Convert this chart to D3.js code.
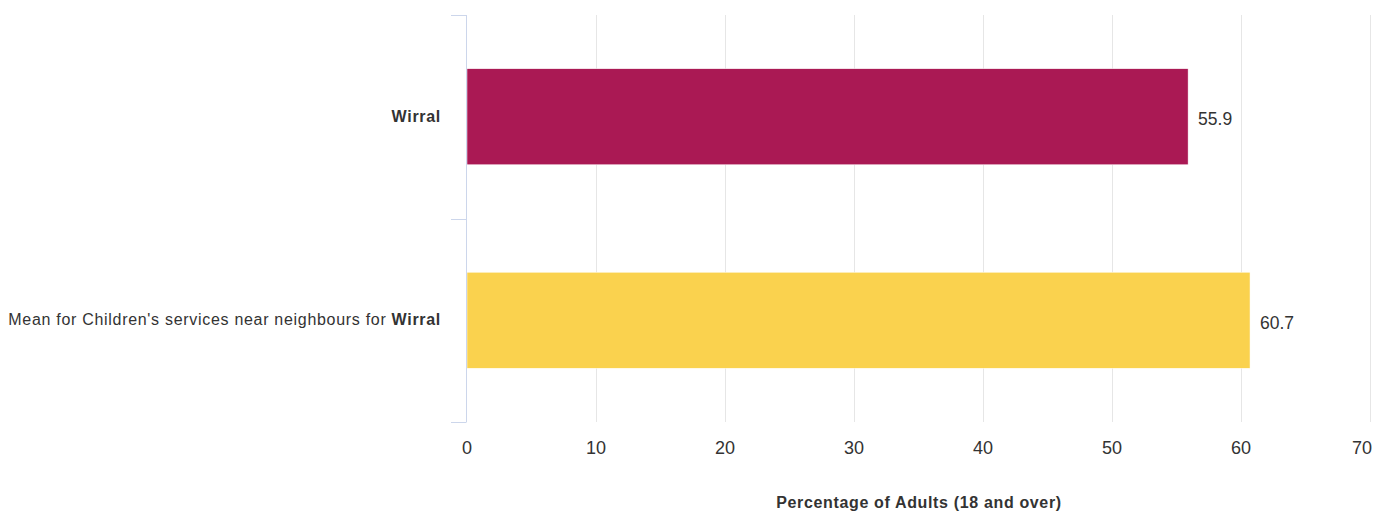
<!DOCTYPE html>
<html><head><meta charset="utf-8">
<script src="https://cdn.jsdelivr.net/npm/d3@7/dist/d3.min.js"></script>
<style>body{margin:0;background:#fff;} text{font-family:"Liberation Sans",Arial,sans-serif;}</style>
</head><body>
<svg id="c" width="1380" height="513"></svg>
<script>
const categories = ["Wirral", "Mean for Children's services near neighbours for Wirral"];
const values = [55.9, 60.7];
const colors = ["#aa1954", "#fad24e"];
const xTicks = [0, 10, 20, 30, 40, 50, 60, 70];
const xTitle = "Percentage of Adults (18 and over)";

(function () {
const svg = d3.select("#c");
const pL = 467, pR = 1370, pT = 15, pB = 422;
const x = d3.scaleLinear().domain([0, 70]).range([pL, pR]);
const y = d3.scaleBand().domain(categories).range([pT, pB]).paddingInner(0.528).paddingOuter(0.264);
const yb = d3.scaleBand().domain(categories).range([pT, pB]);

// grid
svg.append("g").selectAll("line").data(xTicks.slice(1)).join("line")
  .attr("x1", d => Math.round(x(d)) + 0.5).attr("x2", d => Math.round(x(d)) + 0.5)
  .attr("y1", pT).attr("y2", pB).attr("stroke", "#e6e6e6").attr("stroke-width", 1);

// bars
svg.append("g").selectAll("rect").data(categories).join("rect")
  .attr("x", x(0)).attr("y", d => y(d))
  .attr("width", (d, i) => x(values[i]) - x(0)).attr("height", y.bandwidth())
  .attr("fill", (d, i) => colors[i]).attr("stroke", "#fff").attr("stroke-width", 0.5);

// y axis line and ticks
const ya = svg.append("g");
ya.append("line").attr("x1", pL - 0.5).attr("x2", pL - 0.5).attr("y1", pT).attr("y2", pB).attr("stroke", "#ccd6eb");
const yt = [pT, ...categories.slice(1).map(c => yb(c)), pB];
ya.selectAll("line.t").data(yt).join("line").attr("class", "t")
  .attr("x1", pL - 16).attr("x2", pL - 0.5).attr("y1", d => Math.round(d) + 0.5).attr("y2", d => Math.round(d) + 0.5)
  .attr("stroke", "#ccd6eb");

// category labels
categories.forEach((c, i) => {
  const t = svg.append("text").attr("x", 441).attr("y", y(c) + y.bandwidth() / 2 + 5)
    .attr("text-anchor", "end").attr("font-size", 16).attr("letter-spacing", 0.7).attr("fill", "#333");
  if (i === 0) {
    t.append("tspan").attr("font-weight", "bold").text(c);
  } else {
    const pre = c.slice(0, c.lastIndexOf("Wirral"));
    t.append("tspan").text(pre);
    t.append("tspan").attr("font-weight", "bold").text("Wirral");
  }
});

// value labels
svg.append("g").selectAll("text").data(categories).join("text")
  .attr("x", (d, i) => x(values[i]) + 10).attr("y", d => y(d) + y.bandwidth() / 2 + 8.5)
  .attr("font-size", 17.5).attr("fill", "#333").text((d, i) => values[i].toFixed(1));

// x tick labels
const tl = svg.append("g").selectAll("text").data(xTicks).join("text")
  .attr("x", d => x(d)).attr("y", 454).attr("text-anchor", "middle")
  .attr("font-size", 18).attr("fill", "#333").text(d => d);
tl.each(function (d) {
  const w = this.getComputedTextLength();
  if (x(d) + w / 2 > 1372) d3.select(this).attr("x", 1372 - w / 2);
});

// x title
svg.append("text").attr("x", 919).attr("y", 508).attr("text-anchor", "middle")
  .attr("font-size", 16).attr("letter-spacing", 0.65).attr("font-weight", "bold").attr("fill", "#333").text(xTitle);
})();
</script>
</body></html>
